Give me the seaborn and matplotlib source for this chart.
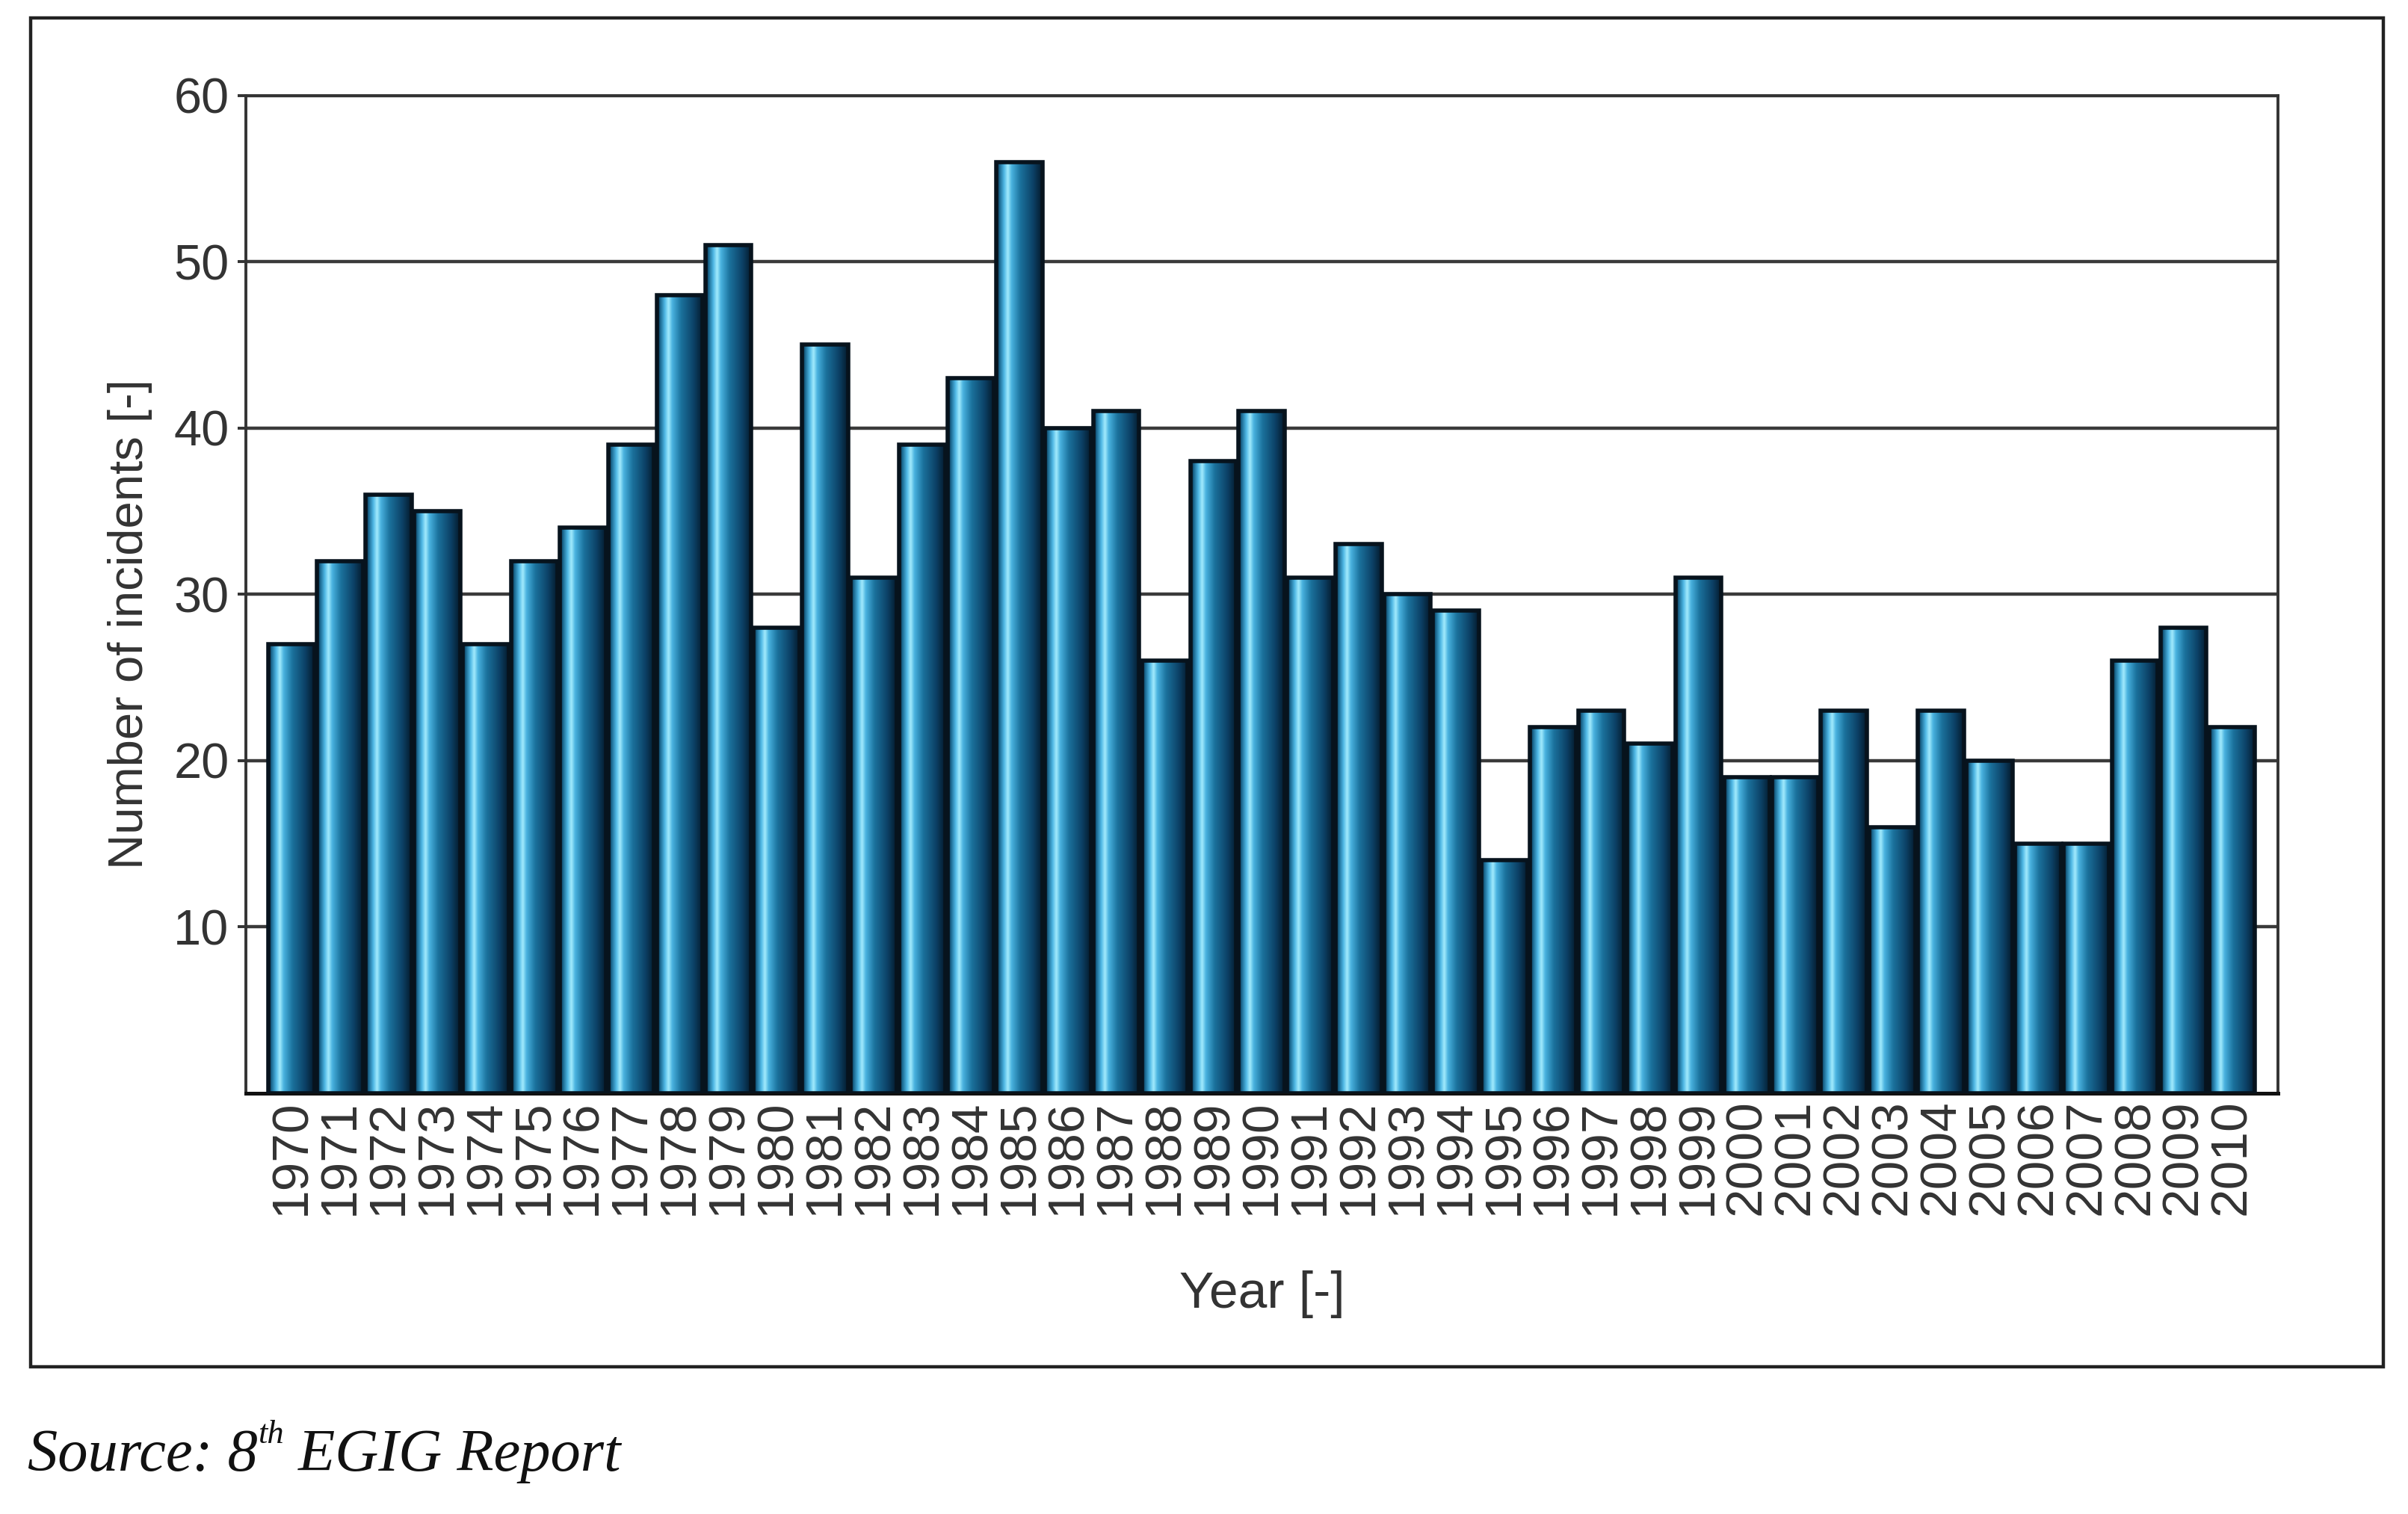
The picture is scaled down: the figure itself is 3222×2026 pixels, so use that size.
import numpy as np
import matplotlib
matplotlib.use('Agg')
import matplotlib.pyplot as plt
import seaborn as sns
from matplotlib.colors import LinearSegmentedColormap
from matplotlib.patches import Rectangle

# EGIG incidents per year
years = [str(y) for y in range(1970, 2011)]
incidents = [27, 32, 36, 35, 27, 32, 34, 39, 48, 51,
             28, 45, 31, 39, 43, 56, 40, 41, 26, 38,
             41, 31, 33, 30, 29, 14, 22, 23, 21, 31,
             19, 19, 23, 16, 23, 20, 15, 15, 26, 28,
             22]
y_ticks = [10, 20, 30, 40, 50, 60]

sns.set_theme(style='white')
plt.rcParams['font.family'] = ['Liberation Sans', 'DejaVu Sans']

fig = plt.figure(figsize=(16.11, 10.13), dpi=200)
ax = fig.add_axes([0.102, 0.278, 0.844, 0.659])

sns.barplot(x=years, y=incidents, color='#1f78a6', width=0.95, ax=ax)

# cylinder-like shading across each bar
shade = LinearSegmentedColormap.from_list('cyl', [
    (0.0, '#04192a'), (0.07, '#1a6890'), (0.17, '#4fb8e6'),
    (0.25, '#a4ecfd'), (0.33, '#4ab3e0'), (0.52, '#1b729d'),
    (0.8, '#0c4166'), (1.0, '#04192a')])
grad = np.linspace(0, 1, 256)[np.newaxis, :]
for p in ax.patches:
    x0, w, h = p.get_x(), p.get_width(), p.get_height()
    im = ax.imshow(grad, cmap=shade, aspect='auto', extent=[x0, x0 + w, 0, h],
                   zorder=2, interpolation='bicubic')
    im.set_clip_path(p)
    p.set_facecolor('none')
    p.set_edgecolor('#07131d')
    p.set_linewidth(2.0)
    p.set_zorder(3)

ax.set_xlim(-0.95, 40.95)
ax.set_ylim(0, 60)
ax.set_yticks(y_ticks)
ax.set_axisbelow(True)
ax.yaxis.grid(True, color='#3a3a3a', linewidth=1.6)
ax.xaxis.grid(False)

for s in ax.spines.values():
    s.set_visible(True)
    s.set_color('#333333')
    s.set_linewidth(1.4)
ax.spines['bottom'].set_color('#111111')
ax.spines['bottom'].set_linewidth(1.8)

ax.tick_params(axis='y', left=True, length=4, width=1.4, color='#333333',
               pad=4, labelsize=24, labelcolor='#333333')
ax.tick_params(axis='x', bottom=False, length=0, pad=3, labelsize=25,
               labelcolor='#333333', rotation=90)

ax.set_xlabel('Year [-]', fontsize=25, color='#333333')
ax.set_ylabel('Number of incidents [-]', fontsize=23.5, color='#333333')
ax.xaxis.set_label_coords(0.5, -0.178)
ax.yaxis.set_label_coords(-0.046, 0.47)

# outer frame around the chart
fig.patches.append(Rectangle((0.0127, 0.0972), 0.977, 0.891, transform=fig.transFigure,
                             fill=False, edgecolor='#222222', linewidth=1.6))

# source note with superscript ordinal
src_kw = dict(style='italic', family='Liberation Serif', color='#111111')
src = fig.text(0.0115, 0.02, 'Source: 8', fontsize=29, va='bottom', **src_kw)
sup = fig.add_artist(plt.Annotation('th', xy=(1, 0.62), xycoords=src, fontsize=16,
                                    va='bottom', ha='left', **src_kw))
fig.add_artist(plt.Annotation(' EGIG Report', xy=(1, 0), xycoords=(sup, src),
                              fontsize=29, va='bottom', ha='left', **src_kw))

fig.savefig('out.png', dpi=200)
